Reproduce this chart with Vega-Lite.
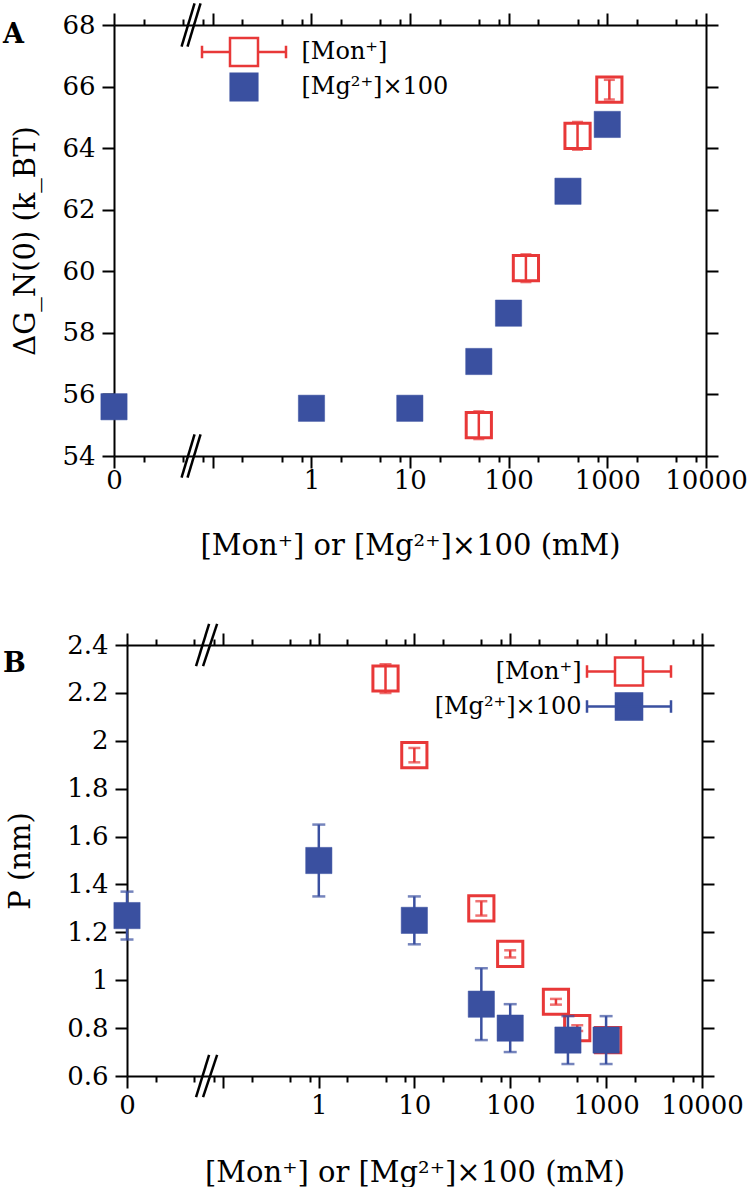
{
  "$schema": "https://vega.github.io/schema/vega-lite/v6.json",
  "padding": {"left": 2, "top": 2, "right": 0, "bottom": 0},
  "background": "white",
  "datasets": {
    "monA": [
      {"series": "[Mon⁺]", "conc": 50, "value": 55.0, "lo": 54.55, "hi": 55.45},
      {"series": "[Mon⁺]", "conc": 150, "value": 60.1, "lo": 59.65, "hi": 60.55},
      {"series": "[Mon⁺]", "conc": 500, "value": 64.4, "lo": 63.95, "hi": 64.85},
      {"series": "[Mon⁺]", "conc": 1050, "value": 65.9, "lo": 65.58, "hi": 66.22}
    ],
    "mgA": [
      {"series": "[Mg²⁺]×100", "conc": 0, "value": 55.6},
      {"series": "[Mg²⁺]×100", "conc": 1, "value": 55.55},
      {"series": "[Mg²⁺]×100", "conc": 10, "value": 55.55},
      {"series": "[Mg²⁺]×100", "conc": 50, "value": 57.07},
      {"series": "[Mg²⁺]×100", "conc": 100, "value": 58.64},
      {"series": "[Mg²⁺]×100", "conc": 400, "value": 62.6},
      {"series": "[Mg²⁺]×100", "conc": 1000, "value": 64.77}
    ],
    "monB": [
      {"series": "[Mon⁺]", "conc": 5, "value": 2.26, "lo": 2.2, "hi": 2.32},
      {"series": "[Mon⁺]", "conc": 10, "value": 1.94, "lo": 1.91, "hi": 1.97},
      {"series": "[Mon⁺]", "conc": 50, "value": 1.3, "lo": 1.27, "hi": 1.33},
      {"series": "[Mon⁺]", "conc": 100, "value": 1.11, "lo": 1.095, "hi": 1.125},
      {"series": "[Mon⁺]", "conc": 300, "value": 0.91, "lo": 0.898, "hi": 0.922},
      {"series": "[Mon⁺]", "conc": 500, "value": 0.8, "lo": 0.788, "hi": 0.812},
      {"series": "[Mon⁺]", "conc": 1050, "value": 0.75, "lo": 0.74, "hi": 0.76}
    ],
    "mgB": [
      {"series": "[Mg²⁺]×100", "conc": 0, "value": 1.27, "lo": 1.17, "hi": 1.37},
      {"series": "[Mg²⁺]×100", "conc": 1, "value": 1.5, "lo": 1.35, "hi": 1.65},
      {"series": "[Mg²⁺]×100", "conc": 10, "value": 1.25, "lo": 1.15, "hi": 1.35},
      {"series": "[Mg²⁺]×100", "conc": 50, "value": 0.9, "lo": 0.75, "hi": 1.05},
      {"series": "[Mg²⁺]×100", "conc": 100, "value": 0.8, "lo": 0.7, "hi": 0.9},
      {"series": "[Mg²⁺]×100", "conc": 400, "value": 0.75, "lo": 0.65, "hi": 0.85},
      {"series": "[Mg²⁺]×100", "conc": 1000, "value": 0.75, "lo": 0.65, "hi": 0.85}
    ]
  },
  "config": {
    "view": {"stroke": null},
    "axis": {
      "grid": false, "ticks": true, "domainColor": "black", "domainWidth": 2, "tickColor": "black", "tickWidth": 2, "tickOpacity": 1,
      "labelFont": "DejaVu Serif", "labelFontSize": 26, "labelColor": "black",
      "titleFont": "DejaVu Serif", "titleFontSize": 29, "titleFontWeight": "normal", "titleColor": "black",
      "labelFlush": false, "labelOverlap": false, "labelBound": false
    },
    "legend": {"labelFont": "DejaVu Serif", "labelFontSize": 24, "labelColor": "black"}
  },
  "resolve": {
    "scale": {"fill": "independent", "stroke": "independent", "shape": "independent"},
    "legend": {"fill": "independent", "stroke": "independent", "shape": "independent"}
  },
  "spacing": 62,
  "vconcat": [
    {
      "width": 579, "height": 431,
      "layer": [
        {
          "data": {"name": "monA"},
          "mark": {"type": "rule", "color": "#e83838", "strokeWidth": 2.5},
          "encoding": {
            "x": {"field": "conc", "type": "quantitative",
              "scale": {"type": "symlog", "constant": 0.0101, "domain": [0, 10000], "range": [-13, 579], "nice": false, "zero": false},
              "axis": {"orient": "bottom", "values": [0, 0.0909, 1, 10, 100, 1000, 10000], "ticks": true, "tickSize": 12, "labelPadding": -1,
                "encode": {"ticks": {"update": {"y2": {"value": -12}}}},
                "labelExpr": "datum.value == 0.0909 ? '' : format(datum.value, 'd')",
                "title": "[Mon⁺] or [Mg²⁺]×100 (mM)", "titlePadding": 38}},
            "y": {"field": "lo", "type": "quantitative",
              "scale": {"domain": [54, 68], "nice": false, "zero": false},
              "axis": {"orient": "left", "offset": 13, "values": [54, 56, 58, 60, 62, 64, 66, 68], "ticks": true, "tickSize": 12, "labelPadding": 7,
                "encode": {"ticks": {"update": {"x2": {"value": 12}}}},
                "labelExpr": "format(datum.value, '~g')", "title": "ΔG_N(0) (k_BT)", "titlePadding": 21}},
            "y2": {"field": "hi"}
          }
        },
        {
          "data": {"name": "monA"},
          "mark": {"type": "tick", "orient": "horizontal", "color": "#e83838", "thickness": 2.5, "size": 11},
          "encoding": {
            "x": {"field": "conc", "type": "quantitative",
              "axis": {"orient": "bottom", "values": [0.0101, 0.0404, 0.0707, 0.1919, 0.4949, 0.7979, 2, 5, 8, 20, 50, 80, 200, 500, 800, 2000, 5000, 8000],
                "ticks": true, "tickSize": 6, "encode": {"ticks": {"update": {"y2": {"value": -6}}}}, "labels": false, "domain": false, "title": null}},
            "y": {"field": "lo", "type": "quantitative",
              "axis": {"orient": "right", "values": [54, 56, 58, 60, 62, 64, 66, 68], "ticks": true, "tickSize": 12,
                "encode": {"ticks": {"update": {"x2": {"value": -12}}}}, "labels": false, "title": null}}
          }
        },
        {
          "data": {"name": "monA"},
          "mark": {"type": "tick", "orient": "horizontal", "color": "#e83838", "thickness": 2.5, "size": 11},
          "encoding": {
            "x": {"field": "conc", "type": "quantitative",
              "axis": {"orient": "top", "values": [0, 0.0909, 1, 10, 100, 1000, 10000], "ticks": true, "tickSize": 12,
                "encode": {"ticks": {"update": {"y2": {"value": 12}}}}, "labels": false, "title": null}},
            "y": {"field": "hi", "type": "quantitative", "axis": null}
          }
        },
        {
          "data": {"name": "monA"},
          "mark": {"type": "point", "shape": "square", "size": 635, "strokeWidth": 3, "opacity": 1, "filled": true},
          "encoding": {
            "x": {"field": "conc", "type": "quantitative",
              "axis": {"orient": "top", "values": [0.0101, 0.0404, 0.0707, 0.1919, 0.4949, 0.7979, 2, 5, 8, 20, 50, 80, 200, 500, 800, 2000, 5000, 8000],
                "ticks": true, "tickSize": 6, "encode": {"ticks": {"update": {"y2": {"value": 6}}}}, "labels": false, "domain": false, "title": null}},
            "y": {"field": "value", "type": "quantitative", "axis": null},
            "fill": {"field": "series", "type": "nominal",
              "scale": {"domain": ["[Mon⁺]", "[Mg²⁺]×100"], "range": ["transparent", "#3a50a0"]}},
            "stroke": {"field": "series", "type": "nominal",
              "scale": {"domain": ["[Mon⁺]", "[Mg²⁺]×100"], "range": ["#e83838", "#3a50a0"]}}
          }
        },
        {
          "data": {"name": "mgA"},
          "mark": {"type": "point", "shape": "square", "size": 690, "strokeWidth": 0.5, "opacity": 1, "filled": true},
          "encoding": {
            "x": {"field": "conc", "type": "quantitative", "axis": null},
            "y": {"field": "value", "type": "quantitative", "axis": null},
            "fill": {"field": "series", "type": "nominal"},
            "stroke": {"field": "series", "type": "nominal"}
          }
        },
        {
          "data": {"name": "monA"},
          "transform": [{"filter": "false"}],
          "mark": {"type": "point", "opacity": 1, "filled": true, "strokeWidth": 2.5},
          "encoding": {
            "x": {"field": "conc", "type": "quantitative", "axis": null},
            "y": {"field": "value", "type": "quantitative", "axis": null},
            "fill": {"field": "series", "type": "nominal",
              "legend": {"title": null, "orient": "none", "legendX": 101.5, "legendY": 11.5, "symbolSize": 784, "symbolStrokeWidth": 2.5,
                "labelOffset": 42, "rowPadding": -10, "padding": 0}},
            "stroke": {"field": "series", "type": "nominal",
              "legend": {"title": null, "orient": "none", "legendX": 101.5, "legendY": 11.5, "symbolSize": 784, "symbolStrokeWidth": 2.5,
                "labelOffset": 42, "rowPadding": -10, "padding": 0}},
            "shape": {"field": "series", "type": "nominal",
              "scale": {"domain": ["[Mon⁺]", "[Mg²⁺]×100"],
                "range": ["M-3,0H-1M1,0H3M-3,-0.45V0.45M3,-0.45V0.45M-1,-1H1V1H-1Z", "M-0.95,-0.95H0.95V0.95H-0.95Z"]},
              "legend": {"title": null, "orient": "none", "legendX": 101.5, "legendY": 11.5, "symbolSize": 784, "symbolStrokeWidth": 2.5,
                "labelOffset": 42, "rowPadding": -10, "padding": 0}}
          }
        },
        {"data": {"values": [{}]}, "mark": {"type": "text", "text": "A", "font": "DejaVu Serif", "fontSize": 27, "fontWeight": "bold", "align": "left", "baseline": "alphabetic", "color": "black"},
         "encoding": {"x": {"datum": -0.1244, "type": "quantitative", "axis": null}, "y": {"datum": 67.415, "type": "quantitative", "axis": null}}},
        {"data": {"values": [{}]}, "mark": {"type": "rule", "color": "black", "strokeWidth": 2.5},
         "encoding": {"x": {"datum": 0.0387, "type": "quantitative", "axis": null}, "x2": {"datum": 0.056}, "y": {"datum": 67.3, "type": "quantitative", "axis": null}, "y2": {"datum": 68.7}}},
        {"data": {"values": [{}]}, "mark": {"type": "rule", "color": "black", "strokeWidth": 2.5},
         "encoding": {"x": {"datum": 0.046, "type": "quantitative", "axis": null}, "x2": {"datum": 0.0659}, "y": {"datum": 67.3, "type": "quantitative", "axis": null}, "y2": {"datum": 68.7}}},
        {"data": {"values": [{}]}, "mark": {"type": "rule", "color": "black", "strokeWidth": 2.5},
         "encoding": {"x": {"datum": 0.0387, "type": "quantitative", "axis": null}, "x2": {"datum": 0.056}, "y": {"datum": 53.3, "type": "quantitative", "axis": null}, "y2": {"datum": 54.7}}},
        {"data": {"values": [{}]}, "mark": {"type": "rule", "color": "black", "strokeWidth": 2.5},
         "encoding": {"x": {"datum": 0.046, "type": "quantitative", "axis": null}, "x2": {"datum": 0.0659}, "y": {"datum": 53.3, "type": "quantitative", "axis": null}, "y2": {"datum": 54.7}}}
      ],
      "resolve": {"axis": {"x": "independent", "y": "independent"}}
    },
    {
      "width": 575, "height": 431,
      "layer": [
        {
          "data": {"name": "monB"},
          "mark": {"type": "rule", "color": "#e83838", "strokeWidth": 2.5},
          "encoding": {
            "x": {"field": "conc", "type": "quantitative",
              "scale": {"type": "symlog", "constant": 0.0101, "domain": [0, 10000], "nice": false, "zero": false},
              "axis": {"orient": "bottom", "values": [0, 0.0909, 1, 10, 100, 1000, 10000], "ticks": true, "tickSize": 12, "labelPadding": 4,
                "encode": {"ticks": {"update": {"y2": {"value": -12}}}},
                "labelExpr": "datum.value == 0.0909 ? '' : format(datum.value, 'd')",
                "title": "[Mon⁺] or [Mg²⁺]×100 (mM)", "titlePadding": 40}},
            "y": {"field": "lo", "type": "quantitative",
              "scale": {"domain": [0.6, 2.4], "nice": false, "zero": false},
              "axis": {"orient": "left", "values": [0.6, 0.8, 1, 1.2, 1.4, 1.6, 1.8, 2, 2.2, 2.4], "ticks": true, "tickSize": 12, "labelPadding": 7,
                "encode": {"ticks": {"update": {"x2": {"value": 12}}}},
                "labelExpr": "format(datum.value, '~g')", "title": "P (nm)", "titlePadding": 31}},
            "y2": {"field": "hi"}
          }
        },
        {
          "data": {"name": "monB"},
          "mark": {"type": "tick", "orient": "horizontal", "color": "#e83838", "thickness": 2.5, "size": 12},
          "encoding": {
            "x": {"field": "conc", "type": "quantitative",
              "axis": {"orient": "bottom", "values": [0.0101, 0.0404, 0.0707, 0.1919, 0.4949, 0.7979, 2, 5, 8, 20, 50, 80, 200, 500, 800, 2000, 5000, 8000],
                "ticks": true, "tickSize": 6, "encode": {"ticks": {"update": {"y2": {"value": -6}}}}, "labels": false, "domain": false, "title": null}},
            "y": {"field": "lo", "type": "quantitative",
              "axis": {"orient": "right", "values": [0.6, 0.8, 1, 1.2, 1.4, 1.6, 1.8, 2, 2.2, 2.4], "ticks": true, "tickSize": 12,
                "encode": {"ticks": {"update": {"x2": {"value": -12}}}}, "labels": false, "title": null}}
          }
        },
        {
          "data": {"name": "monB"},
          "mark": {"type": "tick", "orient": "horizontal", "color": "#e83838", "thickness": 2.5, "size": 12},
          "encoding": {
            "x": {"field": "conc", "type": "quantitative",
              "axis": {"orient": "top", "values": [0, 0.0909, 1, 10, 100, 1000, 10000], "ticks": true, "tickSize": 12,
                "encode": {"ticks": {"update": {"y2": {"value": 12}}}}, "labels": false, "title": null}},
            "y": {"field": "hi", "type": "quantitative", "axis": null}
          }
        },
        {
          "data": {"name": "monB"},
          "mark": {"type": "point", "shape": "square", "size": 635, "strokeWidth": 3, "opacity": 1, "filled": true},
          "encoding": {
            "x": {"field": "conc", "type": "quantitative",
              "axis": {"orient": "top", "values": [0.0101, 0.0404, 0.0707, 0.1919, 0.4949, 0.7979, 2, 5, 8, 20, 50, 80, 200, 500, 800, 2000, 5000, 8000],
                "ticks": true, "tickSize": 6, "encode": {"ticks": {"update": {"y2": {"value": 6}}}}, "labels": false, "domain": false, "title": null}},
            "y": {"field": "value", "type": "quantitative", "axis": null},
            "fill": {"field": "series", "type": "nominal",
              "scale": {"domain": ["[Mon⁺]", "[Mg²⁺]×100"], "range": ["transparent", "#3a50a0"]}},
            "stroke": {"field": "series", "type": "nominal",
              "scale": {"domain": ["[Mon⁺]", "[Mg²⁺]×100"], "range": ["#e83838", "#3a50a0"]}}
          }
        },
        {
          "data": {"name": "mgB"},
          "mark": {"type": "rule", "color": "#3a50a0", "strokeWidth": 2.5},
          "encoding": {
            "x": {"field": "conc", "type": "quantitative", "axis": null},
            "y": {"field": "lo", "type": "quantitative", "axis": null},
            "y2": {"field": "hi"}
          }
        },
        {
          "data": {"name": "mgB"},
          "mark": {"type": "tick", "orient": "horizontal", "color": "#3a50a0", "thickness": 2.5, "size": 13},
          "encoding": {
            "x": {"field": "conc", "type": "quantitative", "axis": null},
            "y": {"field": "lo", "type": "quantitative", "axis": null}
          }
        },
        {
          "data": {"name": "mgB"},
          "mark": {"type": "tick", "orient": "horizontal", "color": "#3a50a0", "thickness": 2.5, "size": 13},
          "encoding": {
            "x": {"field": "conc", "type": "quantitative", "axis": null},
            "y": {"field": "hi", "type": "quantitative", "axis": null}
          }
        },
        {
          "data": {"name": "mgB"},
          "mark": {"type": "point", "shape": "square", "size": 690, "strokeWidth": 0.5, "opacity": 1, "filled": true},
          "encoding": {
            "x": {"field": "conc", "type": "quantitative", "axis": null},
            "y": {"field": "value", "type": "quantitative", "axis": null},
            "fill": {"field": "series", "type": "nominal"},
            "stroke": {"field": "series", "type": "nominal"}
          }
        },
        {
          "data": {"name": "monB"},
          "transform": [{"filter": "false"}],
          "mark": {"type": "point", "opacity": 1, "filled": true, "strokeWidth": 2.5},
          "encoding": {
            "x": {"field": "conc", "type": "quantitative", "axis": null},
            "y": {"field": "value", "type": "quantitative", "axis": null},
            "fill": {"field": "series", "type": "nominal",
              "legend": {"title": null, "orient": "none", "legendX": 486.5, "legendY": 11, "symbolSize": 784, "symbolStrokeWidth": 2.5,
                "labelAlign": "right", "labelOffset": -63, "rowPadding": -10, "padding": 0,
                "encode": {"symbols": {"update": {"strokeWidth": {"signal": "datum.index === 0 ? 2.5 : 1.5"}}}}}},
            "stroke": {"field": "series", "type": "nominal",
              "legend": {"title": null, "orient": "none", "legendX": 486.5, "legendY": 11, "symbolSize": 784, "symbolStrokeWidth": 2.5,
                "labelAlign": "right", "labelOffset": -63, "rowPadding": -10, "padding": 0,
                "encode": {"symbols": {"update": {"strokeWidth": {"signal": "datum.index === 0 ? 2.5 : 1.5"}}}}}},
            "shape": {"field": "series", "type": "nominal",
              "scale": {"domain": ["[Mon⁺]", "[Mg²⁺]×100"],
                "range": ["M-3,0H-1M1,0H3M-3,-0.45V0.45M3,-0.45V0.45M-1,-1H1V1H-1Z", "M-3,0H3M-3,-0.45V0.45M3,-0.45V0.45M-0.93,-0.93H0.93V0.93H-0.93Z"]},
              "legend": {"title": null, "orient": "none", "legendX": 486.5, "legendY": 11, "symbolSize": 784, "symbolStrokeWidth": 2.5,
                "labelAlign": "right", "labelOffset": -63, "rowPadding": -10, "padding": 0,
                "encode": {"symbols": {"update": {"strokeWidth": {"signal": "datum.index === 0 ? 2.5 : 1.5"}}}}}}
          }
        },
        {"data": {"values": [{}]}, "mark": {"type": "text", "text": "B", "font": "DejaVu Serif", "fontSize": 27, "fontWeight": "bold", "align": "left", "baseline": "alphabetic", "color": "black"},
         "encoding": {"x": {"datum": -0.188, "type": "quantitative", "axis": null}, "y": {"datum": 2.287, "type": "quantitative", "axis": null}}},
        {"data": {"values": [{}]}, "mark": {"type": "rule", "color": "black", "strokeWidth": 2.5},
         "encoding": {"x": {"datum": 0.0429, "type": "quantitative", "axis": null}, "x2": {"datum": 0.0624}, "y": {"datum": 2.312, "type": "quantitative", "axis": null}, "y2": {"datum": 2.488}}},
        {"data": {"values": [{}]}, "mark": {"type": "rule", "color": "black", "strokeWidth": 2.5},
         "encoding": {"x": {"datum": 0.0526, "type": "quantitative", "axis": null}, "x2": {"datum": 0.0778}, "y": {"datum": 2.312, "type": "quantitative", "axis": null}, "y2": {"datum": 2.488}}},
        {"data": {"values": [{}]}, "mark": {"type": "rule", "color": "black", "strokeWidth": 2.5},
         "encoding": {"x": {"datum": 0.0429, "type": "quantitative", "axis": null}, "x2": {"datum": 0.0624}, "y": {"datum": 0.512, "type": "quantitative", "axis": null}, "y2": {"datum": 0.688}}},
        {"data": {"values": [{}]}, "mark": {"type": "rule", "color": "black", "strokeWidth": 2.5},
         "encoding": {"x": {"datum": 0.0526, "type": "quantitative", "axis": null}, "x2": {"datum": 0.0778}, "y": {"datum": 0.512, "type": "quantitative", "axis": null}, "y2": {"datum": 0.688}}}
      ],
      "resolve": {"axis": {"x": "independent", "y": "independent"}}
    }
  ]
}
